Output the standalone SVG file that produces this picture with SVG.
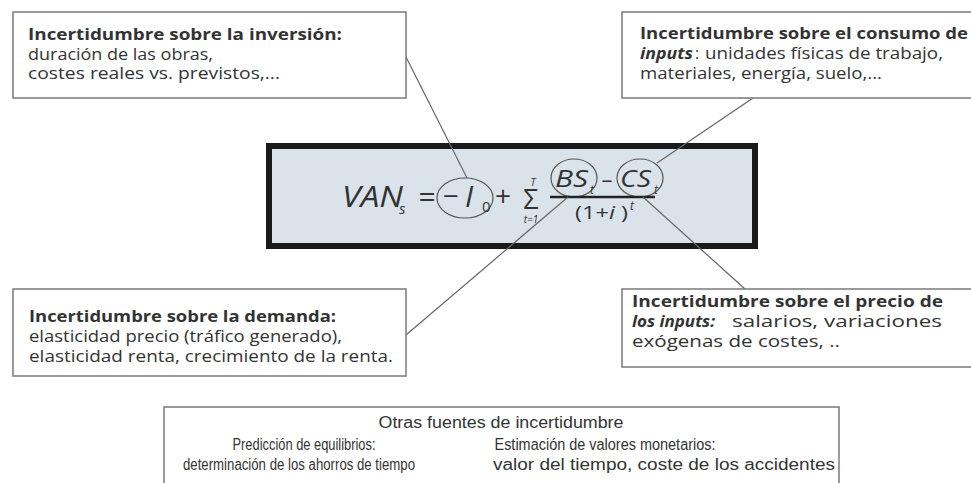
<svg xmlns="http://www.w3.org/2000/svg" width="971" height="483" viewBox="0 0 971 483">
<style>
.box{fill:#fff;stroke:#7a7a7a;stroke-width:1.5}
.t{font-family:"Open Sans","Liberation Sans",sans-serif;font-size:15.5px;fill:#333}
.b{font-weight:bold}
.bi{font-weight:bold;font-style:italic}
.n{font-family:"Liberation Sans",sans-serif;font-size:16px;fill:#333}
.f{font-family:"Open Sans","DejaVu Sans",sans-serif;font-style:italic;fill:#333}
.u{font-style:normal}
.e{fill:none;stroke:#555;stroke-width:1.2}
.c{fill:none;stroke:#666;stroke-width:1.2}
</style>
<g id="formula">
<rect x="269" y="146" width="486" height="100" fill="#dbe3ea" stroke="#1a1a1a" stroke-width="6"/>
<text class="f" x="342" y="207" font-size="30" textLength="61" lengthAdjust="spacingAndGlyphs">VAN</text>
<text class="f" x="399" y="214" font-size="15">s</text>
<text class="f u" x="427" y="207" font-size="30" text-anchor="middle">=</text>
<ellipse class="e" cx="465" cy="198" rx="28" ry="20"/>
<text class="f u" x="451" y="206" font-size="28" text-anchor="middle">−</text>
<text class="f" x="465" y="207" font-size="30">I</text>
<text class="f u" x="482" y="212" font-size="15">0</text>
<text class="f u" x="503" y="206" font-size="28" text-anchor="middle">+</text>
<text class="f u" x="531" y="209" font-size="27" text-anchor="middle">Σ</text>
<text class="f" x="533" y="186" font-size="10" text-anchor="middle">T</text>
<text class="f" x="531" y="223" font-size="10" text-anchor="middle">t=1</text>
<ellipse class="e" cx="574" cy="178" rx="23" ry="19"/>
<text class="f" x="555" y="187" font-size="24" textLength="33" lengthAdjust="spacingAndGlyphs">BS</text>
<text class="f" x="590" y="194" font-size="12">t</text>
<text class="f u" x="607" y="187" font-size="22" text-anchor="middle">–</text>
<ellipse class="e" cx="640" cy="178" rx="23" ry="19"/>
<text class="f" x="620" y="187" font-size="24" textLength="31" lengthAdjust="spacingAndGlyphs">CS</text>
<text class="f" x="654" y="194" font-size="12">t</text>
<line x1="550" y1="197" x2="655" y2="197" stroke="#222" stroke-width="2.5"/>
<text class="f u" x="575" y="219" font-size="18" textLength="53" lengthAdjust="spacingAndGlyphs">(1+<tspan font-style="italic">i</tspan> )</text>
<text class="f" x="630" y="210" font-size="12">t</text>
</g>
<g id="connectors">
<line class="c" x1="405" y1="55" x2="467" y2="178"/>
<line class="c" x1="753" y1="98" x2="657" y2="163"/>
<line class="c" x1="406" y1="335" x2="568" y2="197"/>
<line class="c" x1="643" y1="197" x2="745" y2="289"/>
</g>
<g id="inversion">
<rect class="box" x="13" y="12" width="393" height="86"/>
<text class="t b" x="28" y="40" textLength="314" lengthAdjust="spacingAndGlyphs">Incertidumbre sobre la inversión:</text>
<text class="t" x="28" y="59.5" textLength="185" lengthAdjust="spacingAndGlyphs">duración de las obras,</text>
<text class="t" x="28" y="79" textLength="252" lengthAdjust="spacingAndGlyphs">costes reales vs. previstos,...</text>
</g>
<g id="consumo">
<rect class="box" x="622" y="12" width="360" height="86"/>
<text class="t b" x="640" y="39" textLength="328" lengthAdjust="spacingAndGlyphs">Incertidumbre sobre el consumo de</text>
<text class="t bi" x="640" y="59" textLength="53" lengthAdjust="spacingAndGlyphs">inputs</text>
<text class="t" x="695" y="59">:</text>
<text class="t" x="705" y="59" textLength="238" lengthAdjust="spacingAndGlyphs">unidades físicas  de trabajo,</text>
<text class="t" x="640" y="79" textLength="242" lengthAdjust="spacingAndGlyphs">materiales, energía, suelo,...</text>
</g>
<g id="demanda">
<rect class="box" x="13" y="289" width="393" height="87"/>
<text class="t b" x="29" y="322" textLength="307" lengthAdjust="spacingAndGlyphs">Incertidumbre sobre la demanda:</text>
<text class="t" x="29" y="342" textLength="313" lengthAdjust="spacingAndGlyphs">elasticidad precio (tráfico generado),</text>
<text class="t" x="29" y="362" textLength="364" lengthAdjust="spacingAndGlyphs">elasticidad renta, crecimiento de la renta.</text>
</g>
<g id="precio">
<rect class="box" x="622" y="289" width="360" height="78"/>
<text class="t b" x="632" y="307" textLength="311" lengthAdjust="spacingAndGlyphs">Incertidumbre sobre el precio de</text>
<text class="t bi" x="632" y="327" textLength="83" lengthAdjust="spacingAndGlyphs">los inputs:</text>
<text class="t" x="732" y="327" textLength="210" lengthAdjust="spacingAndGlyphs">salarios, variaciones</text>
<text class="t" x="632" y="347" textLength="208" lengthAdjust="spacingAndGlyphs">exógenas de costes, ..</text>
</g>
<g id="otras">
<rect class="box" x="164" y="407" width="675" height="90"/>
<text class="n" x="501" y="428" font-size="18" text-anchor="middle" textLength="245" lengthAdjust="spacingAndGlyphs">Otras  fuentes  de incertidumbre</text>
<text class="n" x="304" y="450" text-anchor="middle" textLength="143" lengthAdjust="spacingAndGlyphs">Predicción de equilibrios:</text>
<text class="n" x="299" y="470" text-anchor="middle" textLength="232" lengthAdjust="spacingAndGlyphs">determinación de los ahorros de tiempo</text>
<text class="n" x="605" y="450" text-anchor="middle" textLength="221" lengthAdjust="spacingAndGlyphs">Estimación de valores monetarios:</text>
<text class="n" x="664" y="470" text-anchor="middle" textLength="342" lengthAdjust="spacingAndGlyphs">valor del tiempo, coste de los accidentes</text>
</g>
</svg>
